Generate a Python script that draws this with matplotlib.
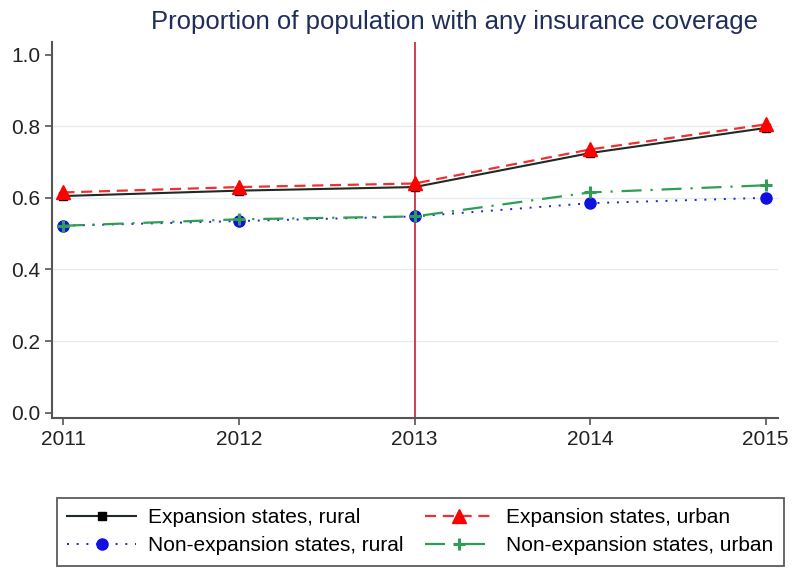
import matplotlib
matplotlib.use("Agg")
import matplotlib.pyplot as plt

plt.rcParams['font.family'] = ['Liberation Sans', 'DejaVu Sans']

years = [2011, 2012, 2013, 2014, 2015]
exp_rural = [0.605, 0.620, 0.630, 0.725, 0.795]
exp_urban = [0.615, 0.630, 0.640, 0.735, 0.805]
nonexp_rural = [0.522, 0.535, 0.548, 0.585, 0.600]
nonexp_urban = [0.522, 0.540, 0.548, 0.615, 0.635]
yticks = [0.0, 0.2, 0.4, 0.6, 0.8, 1.0]

fig = plt.figure(figsize=(7.93, 5.68), dpi=100)
ax = fig.add_axes([0.066, 0.264, 0.915, 0.662])

# light grid
for y in [0.2, 0.4, 0.6, 0.8]:
    ax.axhline(y, color='#e6ecee', lw=1.0, zorder=0)

ax.axvline(2013, color='#c8304a', lw=1.3, zorder=1)

l1, = ax.plot(years, exp_rural, color='#1e2a22', lw=1.5, marker='s', ms=6,
              mfc='black', mec='black', label='Expansion states, rural', zorder=3)
l2, = ax.plot(years, exp_urban, color='#f03030', lw=1.6, ls=(0, (5, 3)), marker='^', ms=10,
              mfc='red', mec='red', label='Expansion states, urban', zorder=4)
l3, = ax.plot(years, nonexp_rural, color='#2020d0', lw=1.4, ls=(0, (1, 4)), marker='o', ms=8,
              mfc='#1010e0', mec='#1010e0', label='Non-expansion states, rural', zorder=3)
l4, = ax.plot(years, nonexp_urban, color='#2e9e55', lw=1.6, ls=(0, (9, 4, 1, 4)), marker='+', ms=8,
              mew=2.2, mec='#2e9e55', label='Non-expansion states, urban', zorder=4)

ax.set_xlim(2010.937, 2015.07)
ax.set_ylim(-0.015, 1.035)
ax.set_xticks(years)
ax.set_yticks(yticks)
ax.set_yticklabels([f'{v:.1f}' for v in yticks])
ax.tick_params(labelsize=15, color='#555555', length=5, width=1.2, colors='#222222')

for s in ['top', 'right']:
    ax.spines[s].set_visible(False)
for s in ['left', 'bottom']:
    ax.spines[s].set_color('#555555')
    ax.spines[s].set_linewidth(1.5)

fig.text(0.573, 0.962, 'Proportion of population with any insurance coverage',
         ha='center', va='center', fontsize=18.5, color='#1f2d5a')

# column-wise fill: order so rows read rural/urban for expansion first
handles = [l1, l3, l2, l4]
leg = fig.legend(handles, [h.get_label() for h in handles], loc='lower center',
                 bbox_to_anchor=(0.53, 0.004), ncol=2,
                 fontsize=15, frameon=True, fancybox=False, edgecolor='#333333',
                 handlelength=3.3, handletextpad=0.6, columnspacing=1.0,
                 borderpad=0.5, labelspacing=0.45, borderaxespad=0)
leg.get_frame().set_linewidth(1.3)

fig.savefig('out.png', dpi=100, facecolor='white')
